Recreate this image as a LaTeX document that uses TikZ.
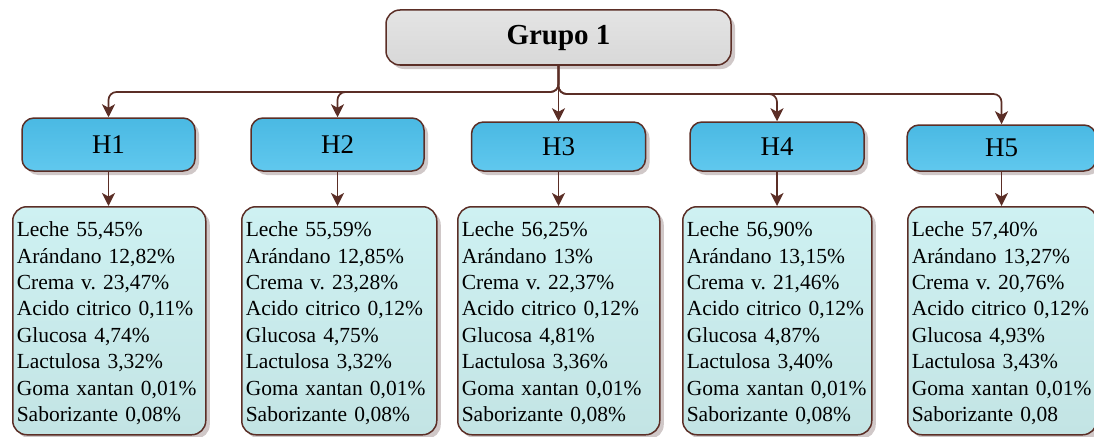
\documentclass[tikz,border=0pt]{standalone}
\usepackage{fontspec}
\setmainfont{Liberation Serif}
\frenchspacing
\usetikzlibrary{arrows.meta,shadows}

\definecolor{edgebrown}{RGB}{91,46,38}
\definecolor{shadowgray}{RGB}{208,200,200}
\definecolor{blueTop}{RGB}{74,185,227}
\definecolor{blueBot}{RGB}{96,200,238}
\definecolor{cyanTop}{RGB}{206,241,242}
\definecolor{cyanBot}{RGB}{195,228,228}
\definecolor{grayTop}{RGB}{228,228,228}
\definecolor{grayBot}{RGB}{216,216,216}

\tikzset{
  boxshadow/.style={drop shadow={shadow xshift=4pt, shadow yshift=-4pt, fill=shadowgray, opacity=1}},
  rootbox/.style={draw=edgebrown, line width=1.5pt, rounded corners=14pt,
    top color=grayTop, bottom color=grayBot, boxshadow,
    minimum width=345pt, minimum height=55pt, inner sep=0pt,
    font=\fontsize{29}{32}\selectfont\bfseries},
  headbox/.style={draw=edgebrown, line width=1.5pt, rounded corners=12pt,
    top color=blueTop, bottom color=blueBot, boxshadow,
    inner sep=0pt, font=\fontsize{27}{30}\selectfont},
  listbox/.style={draw=edgebrown, line width=1.5pt, rounded corners=14pt,
    top color=cyanTop, bottom color=cyanBot, boxshadow,
    anchor=north west, minimum height=228pt, inner xsep=4pt, inner ysep=0pt,
    align=left, font=\fontsize{21.5}{26.4}\selectfont,
    execute at begin node={\rule{0pt}{20pt}}},
  conn/.style={draw=edgebrown, line width=1.7pt,
    -{Stealth[length=13pt,width=13pt,inset=3.5pt,fill=edgebrown]}},
  bus/.style={conn, rounded corners=8pt}
}

\begin{document}
\begin{tikzpicture}[x=1pt,y=-1pt]
\useasboundingbox (0,0) rectangle (1094,436);

% root
\node[rootbox] (G) at (558.5,37.5) {Grupo 1};

% formulation headers
\node[headbox, minimum width=173pt, minimum height=53pt] (H1) at (108.5,144.5) {H1};
\node[headbox, minimum width=173pt, minimum height=53pt] (H2) at (337.5,144.5) {H2};
\node[headbox, minimum width=174pt, minimum height=49pt] (H3) at (558.5,146.5) {H3};
\node[headbox, minimum width=174pt, minimum height=49pt] (H4) at (777,146.5) {H4};
\node[headbox, minimum width=189pt, minimum height=46pt] (H5) at (1001.5,148) {H5};

% composition lists
\node[listbox, minimum width=193pt, text width=185pt] (L1) at (12,206) {%
Leche 55,45\%\\Arándano 12,82\%\\Crema v. 23,47\%\\Acido citrico 0,11\%\\%
Glucosa 4,74\%\\Lactulosa 3,32\%\\Goma xantan 0,01\%\\Saborizante 0,08\%};
\node[listbox, minimum width=195pt, text width=187pt] (L2) at (241,206) {%
Leche 55,59\%\\Arándano 12,85\%\\Crema v. 23,28\%\\Acido citrico 0,12\%\\%
Glucosa 4,75\%\\Lactulosa 3,32\%\\Goma xantan 0,01\%\\Saborizante 0,08\%};
\node[listbox, minimum width=202pt, text width=194pt] (L3) at (457,206) {%
Leche 56,25\%\\Arándano 13\%\\Crema v. 22,37\%\\Acido citrico 0,12\%\\%
Glucosa 4,81\%\\Lactulosa 3,36\%\\Goma xantan 0,01\%\\Saborizante 0,08\%};
\node[listbox, minimum width=189pt, text width=181pt] (L4) at (682,206) {%
Leche 56,90\%\\Arándano 13,15\%\\Crema v. 21,46\%\\Acido citrico 0,12\%\\%
Glucosa 4,87\%\\Lactulosa 3,40\%\\Goma xantan 0,01\%\\Saborizante 0,08\%};
\node[listbox, minimum width=189pt, text width=181pt] (L5) at (907,206) {%
Leche 57,40\%\\Arándano 13,27\%\\Crema v. 20,76\%\\Acido citrico 0,12\%\\%
Glucosa 4,93\%\\Lactulosa 3,43\%\\Goma xantan 0,01\%\\Saborizante 0,08};

% bus from the root to the headers
\coordinate (busL) at (0,92);
\coordinate (busR) at (0,94);
\draw[bus] (G.south) |- (H1.north |- busL) -- (H1.north);
\draw[bus] (G.south) |- (H2.north |- busL) -- (H2.north);
\draw[conn] (G.south) -- (G.south |- H3.north);
\draw[bus] (G.south) |- (H4.north |- busR) -- (H4.north);
\draw[bus] (G.south) |- (H5.north |- busR) -- (H5.north);

% headers to their lists
\foreach \i in {1,...,5}
  \draw[conn] (H\i.south) -- (H\i.south |- L\i.north);
\end{tikzpicture}
\end{document}
